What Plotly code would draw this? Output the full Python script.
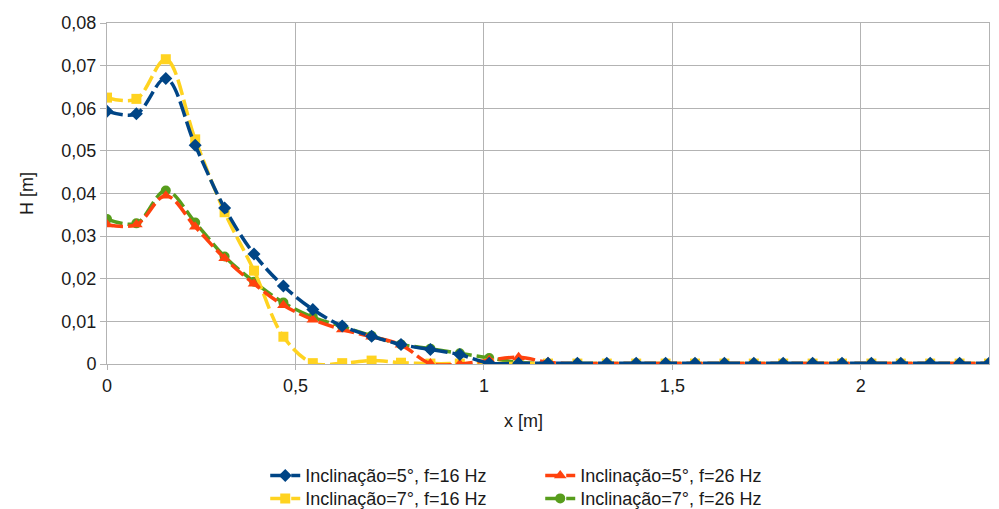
import plotly.graph_objects as go

step = 0.078
n_points = 31
x_vals = [round(i * step, 3) for i in range(n_points)]

h_5deg_16hz = [0.0593, 0.0587, 0.0670, 0.0513, 0.0366, 0.0258, 0.0183, 0.0128, 0.0089, 0.0065,
               0.0046, 0.0034, 0.0022, 0.0002, 0.0002, 0.0002, 0.0002, 0.0002, 0.0002, 0.0002,
               0.0002, 0.0002, 0.0002, 0.0002, 0.0002, 0.0002, 0.0002, 0.0002, 0.0002, 0.0002, 0.0002]
h_5deg_26hz = [0.0327, 0.0327, 0.0395, 0.0322, 0.0248, 0.0188, 0.0138, 0.0104, 0.0081, 0.0064,
               0.0045, 0.0001, 0.0000, 0.0009, 0.0016, 0.0004, 0.0001, 0.0001, 0.0001, 0.0001,
               0.0001, 0.0001, 0.0001, 0.0001, 0.0001, 0.0001, 0.0001, 0.0001, 0.0001, 0.0001, 0.0001]
h_7deg_16hz = [0.0625, 0.0622, 0.0715, 0.0527, 0.0356, 0.0219, 0.0064, 0.0002, 0.0002, 0.0008,
               0.0003, 0.0001, 0.0001, 0.0001, 0.0001, 0.0001, 0.0001, 0.0001, 0.0001, 0.0001,
               0.0001, 0.0001, 0.0001, 0.0001, 0.0001, 0.0001, 0.0001, 0.0001, 0.0001, 0.0001, 0.0001]
h_7deg_26hz = [0.0340, 0.0330, 0.0407, 0.0332, 0.0252, 0.0193, 0.0144, 0.0110, 0.0088, 0.0066,
               0.0046, 0.0036, 0.0025, 0.0014, 0.0004, 0.0001, 0.0001, 0.0001, 0.0001, 0.0001,
               0.0001, 0.0001, 0.0001, 0.0001, 0.0001, 0.0001, 0.0001, 0.0001, 0.0001, 0.0001, 0.0001]

x_ticks = [0, 0.5, 1, 1.5, 2]
x_tick_labels = ["0", "0,5", "1", "1,5", "2"]
y_ticks = [0, 0.01, 0.02, 0.03, 0.04, 0.05, 0.06, 0.07, 0.08]
y_tick_labels = ["0", "0,01", "0,02", "0,03", "0,04", "0,05", "0,06", "0,07", "0,08"]

series = [
    ("Inclinação=5°, f=16 Hz", h_5deg_16hz, "#004586", "diamond", 10, "legend"),
    ("Inclinação=5°, f=26 Hz", h_5deg_26hz, "#ff420e", "triangle-up", 11, "legend"),
    ("Inclinação=7°, f=16 Hz", h_7deg_16hz, "#ffd320", "square", 10, "legend2"),
    ("Inclinação=7°, f=26 Hz", h_7deg_26hz, "#579d1c", "circle", 10, "legend2"),
]

draw_order = [3, 2, 1, 0]
fig = go.Figure()
for idx in draw_order:
    name, vals, color, sym, size, leg = series[idx]
    fig.add_trace(go.Scatter(
        x=x_vals, y=vals, name=name, mode="lines+markers",
        line=dict(color=color, width=3.5, dash="16px,5px", shape="spline", smoothing=1.0),
        marker=dict(symbol=sym, size=size, color=color, line=dict(width=0)),
        legend=leg, legendrank=idx + 1,
    ))

FAMILY = "Liberation Sans, Arial, sans-serif"
font = dict(family=FAMILY, size=18, color="#1a1a1a")
legend_common = dict(
    orientation="h", xanchor="left", yanchor="middle", x=0.1794,
    entrywidth=230, entrywidthmode="pixels", traceorder="normal",
    font=dict(family=FAMILY, size=18, color="#1a1a1a"),
    bgcolor="rgba(0,0,0,0)",
)

# page body has an 8px default margin, so the figure is sized 991x501
fig.update_layout(
    width=991, height=501,
    margin=dict(l=98.7, r=9.7, t=15.3, b=144.7, autoexpand=False),
    paper_bgcolor="white", plot_bgcolor="white",
    font=font,
    showlegend=True,
    legend=dict(**legend_common, y=-0.3276),
    legend2=dict(**legend_common, y=-0.395),
    xaxis=dict(
        range=[0, 2.34], tickvals=x_ticks, ticktext=x_tick_labels,
        showgrid=True, gridcolor="#b3b3b3", gridwidth=1,
        showline=True, linecolor="#b3b3b3", linewidth=1, mirror=True,
        ticks="outside", ticklen=5, tickcolor="#b3b3b3",
        zeroline=False, automargin=False,
        tickfont=font,
    ),
    yaxis=dict(
        range=[0, 0.08], tickvals=y_ticks, ticktext=y_tick_labels,
        showgrid=True, gridcolor="#b3b3b3", gridwidth=1,
        showline=True, linecolor="#b3b3b3", linewidth=1, mirror=True,
        ticks="outside", ticklen=6, tickcolor="#b3b3b3",
        zeroline=False, automargin=False,
        tickfont=font,
    ),
    annotations=[
        dict(text="x [m]", x=0.4717, y=-0.1663, xref="paper", yref="paper",
             xanchor="center", yanchor="middle", showarrow=False, font=font),
        dict(text="H [m]", x=-0.0914, y=0.5, xref="paper", yref="paper",
             xanchor="center", yanchor="middle", showarrow=False, textangle=-90, font=font),
    ],
)

fig.write_html("out.html")
